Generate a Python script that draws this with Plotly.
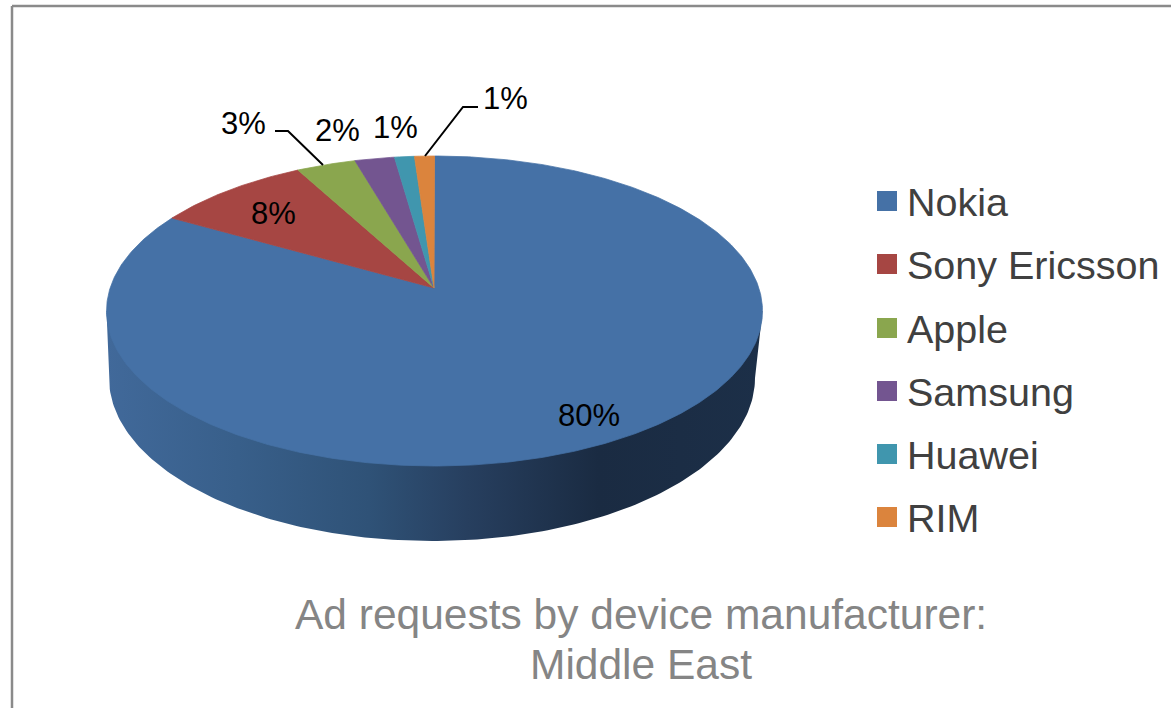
import numpy as np
import plotly.graph_objects as go

# Share of ad requests per manufacturer, Middle East (percent)
manufacturers = ["Nokia", "Sony Ericsson", "Apple", "Samsung", "Huawei", "RIM"]
shares = [80, 8, 3, 2, 1, 1]
slice_colors = ["#4571A6", "#A64643", "#8AA64E", "#735590", "#4096AE", "#DB843D"]
title_lines = ["Ad requests by device manufacturer:", "Middle East"]

# Tilted-disc geometry, in canvas pixel units
WIDTH, HEIGHT = 1171, 708
CX, CY, RX, RY = 434.5, 311.0, 328.0, 155.0   # top face
PIVOT = (434.0, 288.0)                        # where the slices meet
BOTTOM_CX, BOTTOM_CY, BOTTOM_RX, BOTTOM_RY = 432.0, 378.0, 323.0, 163.0  # lower rim of the wall
FORESHORTEN = 0.08

# Label centres and leader lines
label_xy = [(589, 415), (273, 213), (243, 123), (337, 130), (395, 127), (505, 98)]
leaders = [
    ([275, 288, 323], [131, 131, 165]),
    ([478, 463, 425], [107, 107, 156]),
]
legend_x, legend_text_x = 887, 905
legend_y = [201, 264, 328, 391, 454, 517]
legend_text_y = [202, 265, 329, 392, 455, 518]
title_xy = [(641, 614), (641, 664)]


def rim_point(theta):
    """Point on the top rim for a clockwise angle measured from 12 o'clock."""
    t = np.arctan2(np.sin(theta), np.cos(theta) + FORESHORTEN)
    return CX + RX * np.sin(t), CY - RY * np.cos(t)


fig = go.Figure()

# Side wall of the disc, shaded from left to right; it runs on under the top face
s = np.linspace(-np.pi / 2, np.pi / 2, 181)
wall_x = np.concatenate([[CX - RX], BOTTOM_CX + BOTTOM_RX * np.sin(s), [CX + RX], [CX - RX]])
wall_y = np.concatenate([[CY], BOTTOM_CY + BOTTOM_RY * np.cos(s), [CY], [CY]])
fig.add_trace(go.Scatter(
    x=wall_x, y=wall_y, mode="lines", line=dict(width=0), fill="toself",
    fillgradient=dict(type="horizontal", colorscale=[
        [0.0, "#41699A"], [0.2, "#385F8A"], [0.4, "#2F5277"], [0.55, "#273F5F"],
        [0.75, "#1A2B42"], [1.0, "#1C2F48"],
    ]),
    hoverinfo="skip",
))

# Top face slices, clockwise from 12 o'clock
edges = np.cumsum([0] + shares) / sum(shares) * 2 * np.pi
for name, color, a0, a1 in zip(manufacturers, slice_colors, edges[:-1], edges[1:]):
    theta = np.linspace(a0, a1, max(3, int((a1 - a0) * 90)))
    rx, ry = rim_point(theta)
    fig.add_trace(go.Scatter(
        x=np.concatenate([[PIVOT[0]], rx, [PIVOT[0]]]),
        y=np.concatenate([[PIVOT[1]], ry, [PIVOT[1]]]),
        mode="lines", line=dict(width=0.75, color=color), fill="toself", fillcolor=color,
        name=name, hoverinfo="name",
    ))

# Leader lines for the small slices
for lx, ly in leaders:
    fig.add_trace(go.Scatter(x=lx, y=ly, mode="lines",
                             line=dict(color="black", width=2), hoverinfo="skip"))

# Legend swatches
fig.add_trace(go.Scatter(
    x=[legend_x] * len(manufacturers), y=legend_y, mode="markers",
    marker=dict(symbol="square", size=20, color=slice_colors, line=dict(width=0)),
    hoverinfo="skip",
))

annotations = []
for share, (lx, ly) in zip(shares, label_xy):
    annotations.append(dict(x=lx, y=ly, text=f"{share}%", showarrow=False,
                            xanchor="center", yanchor="middle",
                            font=dict(size=31, color="black")))
for name, ly in zip(manufacturers, legend_text_y):
    annotations.append(dict(x=legend_text_x, y=ly, text=name, showarrow=False,
                            xanchor="left", yanchor="middle",
                            font=dict(size=39.5, color="#404040")))
for line, (tx, ty) in zip(title_lines, title_xy):
    annotations.append(dict(x=tx, y=ty, text=line, showarrow=False,
                            xanchor="center", yanchor="middle",
                            font=dict(size=42.5, color="#858585")))

# Chart frame: only the top and left edges fall inside the canvas
frame = dict(type="line", line=dict(color="#8A8A8A", width=2.5), layer="above")
shapes = [
    dict(frame, x0=12, x1=WIDTH, y0=6, y1=6),
    dict(frame, x0=12, x1=12, y0=6, y1=HEIGHT),
]

fig.update_layout(
    width=WIDTH, height=HEIGHT, margin=dict(l=0, r=0, t=0, b=0),
    paper_bgcolor="white", plot_bgcolor="white", showlegend=False,
    font=dict(family="Liberation Sans, Arial, sans-serif"),
    xaxis=dict(range=[0, WIDTH], visible=False, fixedrange=True),
    yaxis=dict(range=[HEIGHT, 0], visible=False, fixedrange=True),
    annotations=annotations, shapes=shapes,
)

fig.write_html("out.html", config=dict(displayModeBar=False))
